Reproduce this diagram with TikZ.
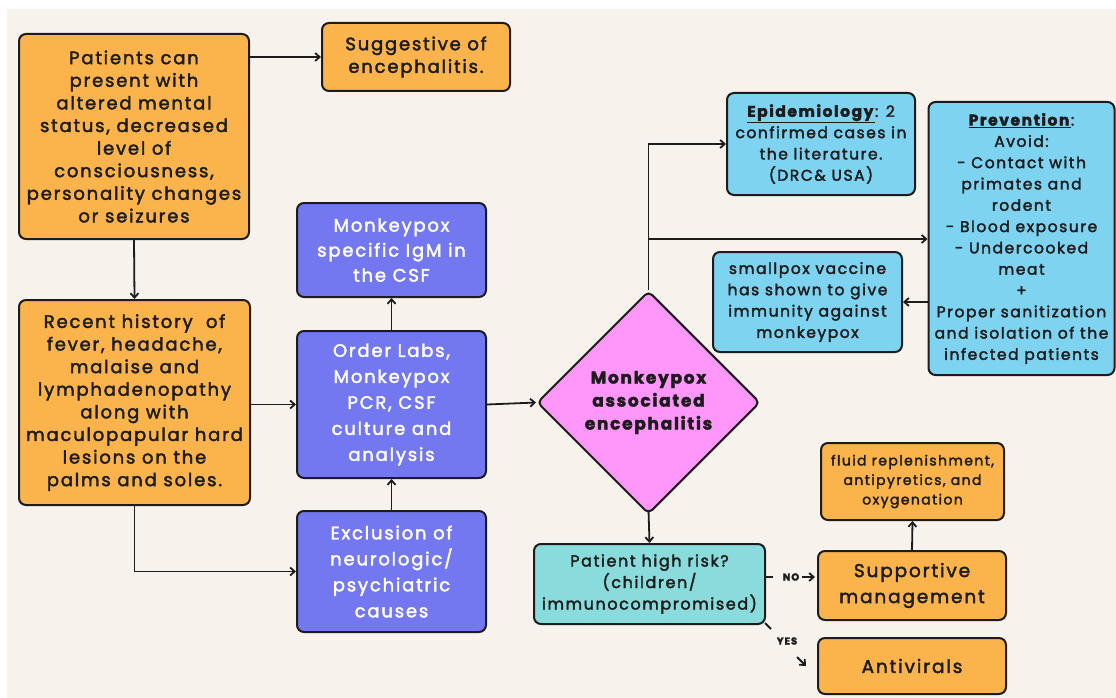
\documentclass[tikz,border=0pt]{standalone}
\usepackage{fontspec}
\setmainfont[LetterSpace=10,FakeBold=2.2]{Poppins}
\usetikzlibrary{arrows.meta,shapes.geometric}
\definecolor{bgc}{HTML}{F7F3EC}
\definecolor{orng}{HTML}{FBB44B}
\definecolor{purp}{HTML}{7478F0}
\definecolor{lblue}{HTML}{7ED3F1}
\definecolor{tealbx}{HTML}{8ADCDC}
\definecolor{pinkd}{HTML}{FF96FA}
\definecolor{edgec}{HTML}{1C1C1C}
\tikzset{
  box/.style={draw=edgec, line width=2pt, rounded corners=7pt, align=center, inner sep=0pt, text=edgec},
  obox/.style={box, fill=orng},
  pbox/.style={box, fill=purp, text=white},
  bbox/.style={box, fill=lblue},
  tbox/.style={box, fill=tealbx},
  fA/.style={font=\fontsize{18}{22.6}\selectfont},
  fP/.style={font=\fontsize{18}{26}\selectfont},
  fS/.style={font=\fontsize{15.5}{21.3}\selectfont},
  fF/.style={font=\fontsize{14}{19.5}\selectfont},
  fL/.style={font=\fontsize{18.5}{26}\selectfont},
  lbl/.style={font=\bfseries\fontsize{10}{12}\selectfont, text=edgec, inner sep=1pt},
  arr/.style={-{Straight Barb[length=4.5pt,width=8pt]}, line width=1.8pt, draw=edgec},
  ln/.style={line width=1.8pt, draw=edgec}
}
\begin{document}
\begin{tikzpicture}[x=1pt,y=-1pt]
\useasboundingbox (0,0) rectangle (1116,698);
\fill[white] (0,0) rectangle (1116,698);
\fill[bgc] (7,9) rectangle (1116,698);

\node[obox, fA, minimum width=230pt, minimum height=205pt] (a) at (134,136.5)
  {Patients can\\present with\\altered mental\\status, decreased\\level of\\consciousness,\\personality changes\\or seizures};
\node[obox, fA, minimum width=188pt, minimum height=68pt] (s) at (416,57)
  {Suggestive of\\encephalitis.};
\node[obox, fA, minimum width=231pt, minimum height=205pt] (b) at (134.5,402.5)
  {Recent history \ of\\fever, headache,\\malaise and\\lymphadenopathy\\along with\\maculopapular hard\\lesions on the\\palms and soles.};
\node[pbox, font=\fontsize{18}{25}\selectfont, minimum width=189pt, minimum height=94pt] (igm) at (391.5,250)
  {Monkeypox\\specific IgM in\\the CSF};
\node[pbox, fP, minimum width=189pt, minimum height=147pt] (labs) at (391.5,404.5)
  {Order Labs,\\Monkeypox\\PCR, CSF\\culture and\\analysis};
\node[pbox, fP, minimum width=189pt, minimum height=121pt] (excl) at (391.5,571.5)
  {Exclusion of\\neurologic/\\psychiatric\\causes};
\node[diamond, aspect=1, draw=edgec, line width=2pt, rounded corners=5pt, fill=pinkd, inner sep=0pt,
  minimum width=223pt, minimum height=223pt, align=center, text=edgec,
  font=\bfseries\fontsize{17}{23}\selectfont] (dia) at (648.5,402.5)
  {Monkeypox\\associated\\encephalitis};
\node[bbox, fS, minimum width=188pt, minimum height=102pt] (epi) at (821,144)
  {\underline{\textbf{Epidemiology}}: 2\\confirmed cases in\\the literature.\\(DRC\& USA)};
\node[bbox, fS, minimum width=186pt, minimum height=273pt] (prev) at (1021.5,238.5)
  {\underline{\textbf{Prevention}}:\\Avoid:\\- Contact with\\primates and\\rodent\\- Blood exposure\\- Undercooked\\meat\\+\\Proper sanitization\\and isolation of the\\infected patients};
\node[bbox, fS, minimum width=189pt, minimum height=100pt] (sp) at (807.5,302)
  {smallpox vaccine\\has shown to give\\immunity against\\monkeypox};
\node[tbox, font=\fontsize{16}{21.5}\selectfont, minimum width=231pt, minimum height=80pt] (risk) at (649.5,584)
  {Patient high risk?\\(children/\\immunocompromised)};
\node[obox, fF, minimum width=183pt, minimum height=77pt] (fluid) at (912.5,481.5)
  {fluid replenishment,\\antipyretics, and\\oxygenation};
\node[obox, fL, minimum width=188pt, minimum height=69pt] (sup) at (912,585.5)
  {Supportive\\management};
\node[obox, fL, minimum width=188pt, minimum height=56pt] (anti) at (912,666)
  {Antivirals};

% connectors
\draw[arr] (a.east |- s.west) -- (s.west);
\draw[arr] (a.south) -- (b.north);
\draw[arr] (b.east |- labs.west) -- (labs.west);
\draw[arr] (b.south) |- (excl.west);
\draw[arr] (excl.north) -- (labs.south);
\draw[arr] (labs.north) -- (igm.south);
\draw[arr] (labs.east) -- (dia.west);
\draw[arr] (dia.north) |- (epi.west);
\coordinate (jn) at (dia.north |- 0,239);
\draw[arr] (jn) -- (prev.west |- jn);
\draw[arr] (prev.west |- sp.east) -- (sp.east);
\draw[arr] ([yshift=5pt]dia.south) -- (risk.north);
\draw[arr] (sup.north) -- (fluid.south);

\node[lbl] (no) at (791,577) {NO};
\draw[ln] (risk.east |- no) -- ++(7,0);
\draw[arr, shorten >=2pt] ([xshift=2pt]no.east) -- (sup.west |- no);
\node[lbl] (yes) at (787,641) {YES};
\draw[ln] ([shift={(-1,-2)}]risk.south east) -- ++(6,6);
\coordinate (yt) at ([shift={(-11,0)}]anti.west);
\draw[arr] ([shift={(-9,-9)}]yt) -- (yt);
\end{tikzpicture}
\end{document}
